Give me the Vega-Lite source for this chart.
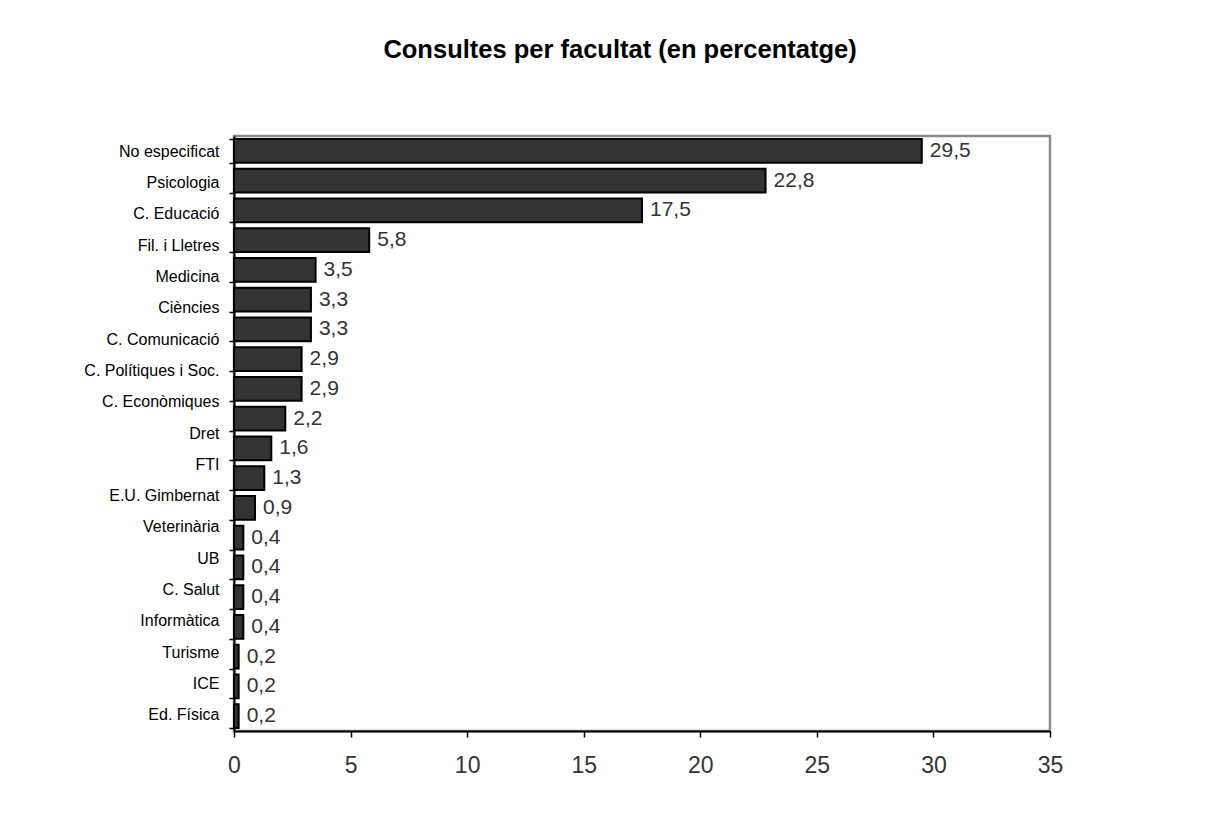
{
  "$schema": "https://vega.github.io/schema/vega-lite/v6.json",
  "width": 816,
  "height": 595,
  "autosize": {"type": "none"},
  "padding": {"left": 234, "top": 136, "right": 157, "bottom": 88},
  "background": "white",
  "title": {
    "text": "Consultes per facultat (en percentatge)",
    "font": "Liberation Sans",
    "fontSize": 25.5,
    "fontWeight": "bold",
    "color": "black",
    "anchor": "middle",
    "dx": -22,
    "offset": 73
  },
  "config": {
    "locale": {"number": {"decimal": ",", "thousands": ".", "grouping": [3], "currency": ["", " €"]}},
    "view": {"stroke": "#8c8c8c", "strokeWidth": 2.5}
  },
  "datasets": {
    "bars": [
      {"row": 1, "pct": 29.5},
      {"row": 2, "pct": 22.8},
      {"row": 3, "pct": 17.5},
      {"row": 4, "pct": 5.8},
      {"row": 5, "pct": 3.5},
      {"row": 6, "pct": 3.3},
      {"row": 7, "pct": 3.3},
      {"row": 8, "pct": 2.9},
      {"row": 9, "pct": 2.9},
      {"row": 10, "pct": 2.2},
      {"row": 11, "pct": 1.6},
      {"row": 12, "pct": 1.3},
      {"row": 13, "pct": 0.9},
      {"row": 14, "pct": 0.4},
      {"row": 15, "pct": 0.4},
      {"row": 16, "pct": 0.4},
      {"row": 17, "pct": 0.4},
      {"row": 18, "pct": 0.2},
      {"row": 19, "pct": 0.2},
      {"row": 20, "pct": 0.2}
    ],
    "labels": [
      {"facultat": "No especificat"},
      {"facultat": "Psicologia"},
      {"facultat": "C. Educació"},
      {"facultat": "Fil. i Lletres"},
      {"facultat": "Medicina"},
      {"facultat": "Ciències"},
      {"facultat": "C. Comunicació"},
      {"facultat": "C. Polítiques i Soc."},
      {"facultat": "C. Econòmiques"},
      {"facultat": "Dret"},
      {"facultat": "FTI"},
      {"facultat": "E.U. Gimbernat"},
      {"facultat": "Veterinària"},
      {"facultat": "UB"},
      {"facultat": "C. Salut"},
      {"facultat": "Informàtica"},
      {"facultat": "Turisme"},
      {"facultat": "ICE"},
      {"facultat": "Ed. Física"}
    ]
  },
  "layer": [
    {
      "data": {"name": "bars"},
      "encoding": {
        "y": {
          "field": "row",
          "type": "ordinal",
          "sort": "ascending",
          "scale": {"type": "band", "paddingInner": 0.2, "paddingOuter": 0.1},
          "axis": {
            "title": null,
            "orient": "left",
            "labels": false,
            "domainColor": "black",
            "domainWidth": 2,
            "tickColor": "black",
            "tickWidth": 1.5,
            "tickSize": 5,
            "tickBand": "extent"
          }
        },
        "x": {
          "field": "pct",
          "type": "quantitative",
          "scale": {"domain": [0, 35], "nice": false},
          "axis": {
            "title": null,
            "values": [0, 5, 10, 15, 20, 25, 30, 35],
            "format": "d",
            "grid": false,
            "labelFlush": false,
            "domainColor": "black",
            "domainWidth": 2,
            "tickColor": "black",
            "tickWidth": 1.5,
            "tickSize": 6,
            "labelFont": "Liberation Sans",
            "labelFontSize": 23,
            "labelColor": "#333333",
            "labelPadding": 17
          }
        }
      },
      "layer": [
        {
          "mark": {"type": "bar", "fill": "#333333", "stroke": "black", "strokeWidth": 2}
        },
        {
          "mark": {
            "type": "text",
            "align": "left",
            "baseline": "middle",
            "dx": 8,
            "font": "Liberation Sans",
            "fontSize": 21,
            "color": "#333333"
          },
          "encoding": {"text": {"field": "pct", "type": "quantitative", "format": ".1f"}}
        }
      ]
    },
    {
      "data": {"name": "labels"},
      "mark": {"type": "tick", "opacity": 0},
      "encoding": {
        "y": {
          "field": "facultat",
          "type": "nominal",
          "sort": null,
          "scale": {"type": "band", "paddingInner": 0, "paddingOuter": 0},
          "axis": {
            "title": null,
            "orient": "left",
            "domain": false,
            "ticks": false,
            "labelFont": "Liberation Sans",
            "labelFontSize": 16,
            "labelColor": "black",
            "labelPadding": 15
          }
        }
      }
    }
  ],
  "resolve": {"scale": {"y": "independent"}, "axis": {"y": "independent"}}
}
